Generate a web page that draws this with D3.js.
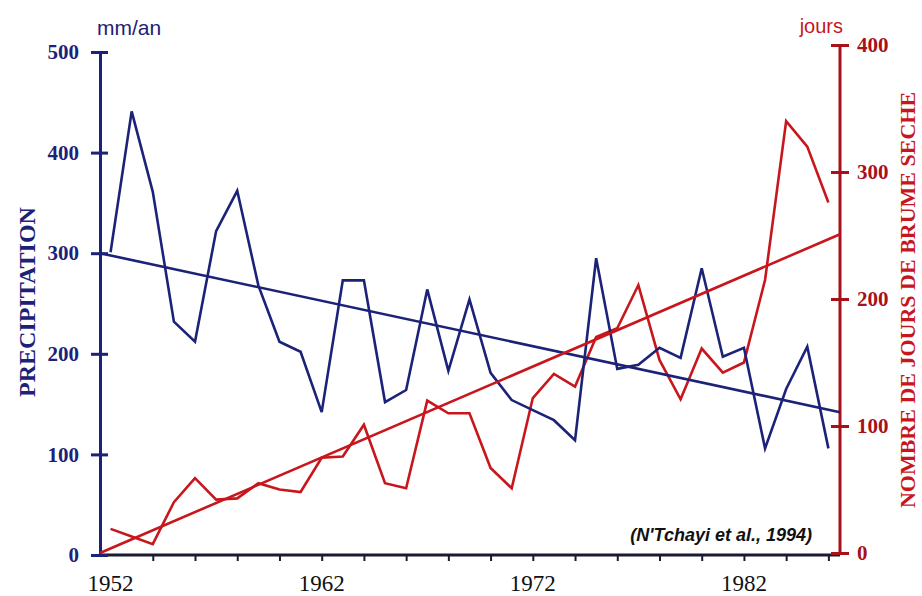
<!DOCTYPE html>
<html>
<head>
<meta charset="utf-8">
<script src="https://cdn.jsdelivr.net/npm/d3@7"></script>
<style>
  html, body { margin: 0; padding: 0; background: #ffffff; }
  svg { display: block; }
</style>
</head>
<body>
<svg id="chart" width="922" height="596"></svg>
<script>
// ---- data ----
const years = [1952,1953,1954,1955,1956,1957,1958,1959,1960,1961,1962,1963,1964,1965,1966,1967,1968,1969,
               1970,1971,1972,1973,1974,1975,1976,1977,1978,1979,1980,1981,1982,1983,1984,1985,1986];
const precipitation = [301,441,361,232,212,322,362,268,212,202,142,273,273,152,164,264,183,254,
                       181,154,144,134,114,295,185,189,206,196,285,197,206,106,165,207,106];
const brumeDays = [19,13,7,40,59,42,43,55,50,48,75,76,101,55,51,120,110,110,
                   67,51,122,141,131,170,177,211,152,121,161,142,150,215,340,320,276];
const trendYears = [1951.5, 1986.55];
const precipTrend = [300, 142];
const brumeTrend = [0, 251];
const leftTicks = [0,100,200,300,400,500];
const rightTicks = [0,100,200,300,400];
const yearTicks = [1954,1956,1958,1960,1962,1964,1966,1968,1970,1972,1974,1976,1978,1980,1982,1984,1986];
const yearLabels = [1952,1962,1972,1982];

// ---- layout ----
const left = 100, right = 840, bottom = 555;
const BLUE = "#1c2277", RED = "#c8161d", DARKRED = "#a8101a";
const SERIF = "'Liberation Serif', 'Times New Roman', serif";
const SANS = "'Liberation Sans', Arial, sans-serif";

const svg = d3.select("#chart");

const x = d3.scaleLinear().domain([trendYears[0], trendYears[1]]).range([left, right]);
const yL = d3.scaleLinear().domain([0, 500]).range([bottom, 52]);
const yR = d3.scaleLinear().domain([0, 400]).range([553, 45]);

// ---- x axis ----
const xAxis = svg.append("g").attr("transform", `translate(0,${bottom})`)
  .call(d3.axisBottom(x).tickValues(yearTicks).tickSize(6).tickSizeOuter(0).tickFormat(""));
xAxis.select(".domain").attr("stroke", "#1a1a33").attr("stroke-width", 3)
  .attr("d", `M${left},0H${right}`);
xAxis.selectAll(".tick line").attr("stroke", "#1a1a33").attr("stroke-width", 2);

svg.append("g").selectAll("text").data(yearLabels).join("text")
  .attr("x", d => x(d))
  .attr("y", 591)
  .attr("text-anchor", "middle")
  .attr("font-family", SERIF)
  .attr("font-size", 23)
  .attr("fill", "#111")
  .text(d => d);

// ---- left axis ----
const la = svg.append("g").attr("transform", `translate(${left},0)`)
  .call(d3.axisLeft(yL).tickValues(leftTicks).tickSizeOuter(0).tickSize(8).tickPadding(13));
la.select(".domain").attr("stroke", BLUE).attr("stroke-width", 3);
la.selectAll(".tick line").attr("stroke", BLUE).attr("stroke-width", 3).attr("x1", 8).attr("x2", -9);
la.selectAll(".tick text")
  .attr("font-family", SERIF)
  .attr("font-weight", "bold").attr("font-size", 21).attr("fill", BLUE);

// ---- right axis ----
const ra = svg.append("g").attr("transform", `translate(${right},0)`)
  .call(d3.axisRight(yR).tickValues(rightTicks).tickSizeOuter(0).tickSize(9).tickPadding(8));
ra.select(".domain").attr("stroke", DARKRED).attr("stroke-width", 3)
  .attr("d", `M0,${yR(400)}V${bottom}`);
ra.selectAll(".tick line").attr("stroke", DARKRED).attr("stroke-width", 3).attr("x1", -9).attr("x2", 9);
ra.selectAll(".tick text")
  .attr("font-family", SERIF)
  .attr("font-weight", "bold").attr("font-size", 21).attr("fill", DARKRED);

// ---- lines ----
const precipLine = d3.line().x((d, i) => x(years[i])).y(d => yL(d));
const brumeLine = d3.line().x((d, i) => x(years[i])).y(d => yR(d));

svg.append("path").datum(brumeDays).attr("d", brumeLine)
  .attr("fill", "none").attr("stroke", RED).attr("stroke-width", 2.6).attr("stroke-linejoin", "miter");
svg.append("path").datum(precipitation).attr("d", precipLine)
  .attr("fill", "none").attr("stroke", BLUE).attr("stroke-width", 2.6).attr("stroke-linejoin", "miter");

const trendLineL = d3.line().x((d, i) => x(trendYears[i])).y(d => yL(d));
const trendLineR = d3.line().x((d, i) => x(trendYears[i])).y(d => yR(d));
svg.append("path").datum(precipTrend).attr("d", trendLineL)
  .attr("fill", "none").attr("stroke", BLUE).attr("stroke-width", 2.6);
svg.append("path").datum(brumeTrend).attr("d", trendLineR)
  .attr("fill", "none").attr("stroke", RED).attr("stroke-width", 2.6);

// ---- titles & units ----
svg.append("text").attr("x", 97).attr("y", 35)
  .attr("font-family", SANS).attr("font-size", 21)
  .attr("fill", BLUE).text("mm/an");
svg.append("text").attr("x", 843).attr("y", 33).attr("text-anchor", "end")
  .attr("font-family", SANS).attr("font-size", 20)
  .attr("fill", RED).text("jours");

svg.append("text")
  .attr("transform", "translate(35,302) rotate(-90)")
  .attr("text-anchor", "middle")
  .attr("font-family", SERIF)
  .attr("font-weight", "bold").attr("font-size", 24).attr("fill", BLUE)
  .text("PRECIPITATION");

svg.append("text")
  .attr("transform", "translate(915,300) rotate(-90)")
  .attr("text-anchor", "middle")
  .attr("font-family", SERIF)
  .attr("font-weight", "bold").attr("font-size", 22).attr("fill", RED)
  .text("NOMBRE DE JOURS DE BRUME SECHE");

svg.append("text").attr("x", 812).attr("y", 541).attr("text-anchor", "end")
  .attr("font-family", SANS).attr("font-size", 18)
  .attr("font-weight", "bold").attr("font-style", "italic").attr("fill", "#111")
  .text("(N'Tchayi et al., 1994)");
</script>
</body>
</html>
